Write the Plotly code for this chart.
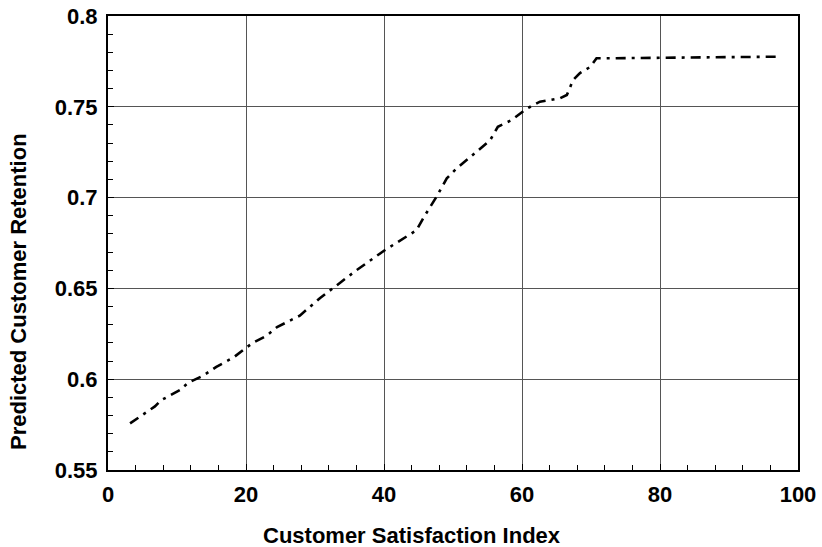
import plotly.graph_objects as go

csi = [3.2, 5.0, 6.8, 7.7, 10.4, 11.6, 13.8, 15.7, 16.7, 18.2, 19.9, 21.0, 23.0, 24.5,
       27.8, 30.7, 33.6, 36.0, 40.1, 43.3, 44.7, 45.9, 47.6, 49.1, 50.5, 53.4, 55.4,
       56.5, 58.5, 60.7, 62.6, 65.5, 66.5, 67.4, 68.4, 69.9, 70.8, 75.0, 80.0, 85.0,
       90.0, 96.9]
retention = [0.5757, 0.5805, 0.585, 0.5884, 0.594, 0.598, 0.602, 0.6068, 0.609, 0.612,
             0.617, 0.620, 0.624, 0.6287, 0.635, 0.6446, 0.653, 0.660, 0.671, 0.6784,
             0.682, 0.690, 0.7004, 0.7106, 0.716, 0.7252, 0.7317, 0.739, 0.7427, 0.749,
             0.7528, 0.7547, 0.7565, 0.7647, 0.7686, 0.772, 0.7767, 0.7768, 0.777,
             0.7772, 0.7774, 0.7776]

x_ticks = [0, 20, 40, 60, 80, 100]
y_ticks = [0.55, 0.6, 0.65, 0.7, 0.75, 0.8]
y_tick_text = ["0.55", "0.6", "0.65", "0.7", "0.75", "0.8"]

font_fam = "Liberation Sans, Arial, sans-serif"

fig = go.Figure()
fig.add_trace(go.Scatter(
    x=csi, y=retention, mode="lines",
    line=dict(color="black", width=2.6, dash="10px,6px,3px,6px"),
    showlegend=False,
))

axis_common = dict(
    showline=True, linecolor="black", linewidth=2, mirror=True,
    showgrid=True, gridcolor="#555555", gridwidth=1,
    ticks="inside", ticklen=6, tickcolor="black", tickwidth=1,
    zeroline=False, automargin=False, ticklabeloverflow="allow",
    tickfont=dict(family=font_fam, size=22, color="black", weight="bold"),
)

fig.update_xaxes(
    range=[0, 100], tickvals=x_ticks, ticktext=[str(v) for v in x_ticks],
    minor=dict(dtick=4, ticks="inside", ticklen=5, tickcolor="black", showgrid=False),
    ticklabelstandoff=4,
    **axis_common,
)
fig.update_yaxes(
    range=[0.55, 0.8], tickvals=y_ticks, ticktext=y_tick_text,
    minor=dict(dtick=0.01, ticks="inside", ticklen=5, tickcolor="black", showgrid=False),
    ticklabelstandoff=4,
    **axis_common,
)

title_font = dict(family=font_fam, size=22, color="black", weight="bold")
fig.add_annotation(text="Customer Satisfaction Index", xref="paper", yref="paper",
                   x=0.44, y=0, yshift=-65, showarrow=False, font=title_font,
                   xanchor="center", yanchor="middle")
fig.add_annotation(text="Predicted Customer Retention", xref="paper", yref="paper",
                   x=0, y=0.392, xshift=-90, showarrow=False, font=title_font,
                   textangle=-90, xanchor="center", yanchor="middle")

fig.update_layout(
    width=822, height=547,
    margin=dict(l=108, r=24, t=16, b=77),
    paper_bgcolor="white", plot_bgcolor="white",
)

fig.write_html("out.html",
               config={"displayModeBar": False},
               post_script="document.body.style.margin='0';document.body.style.overflow='hidden';")
